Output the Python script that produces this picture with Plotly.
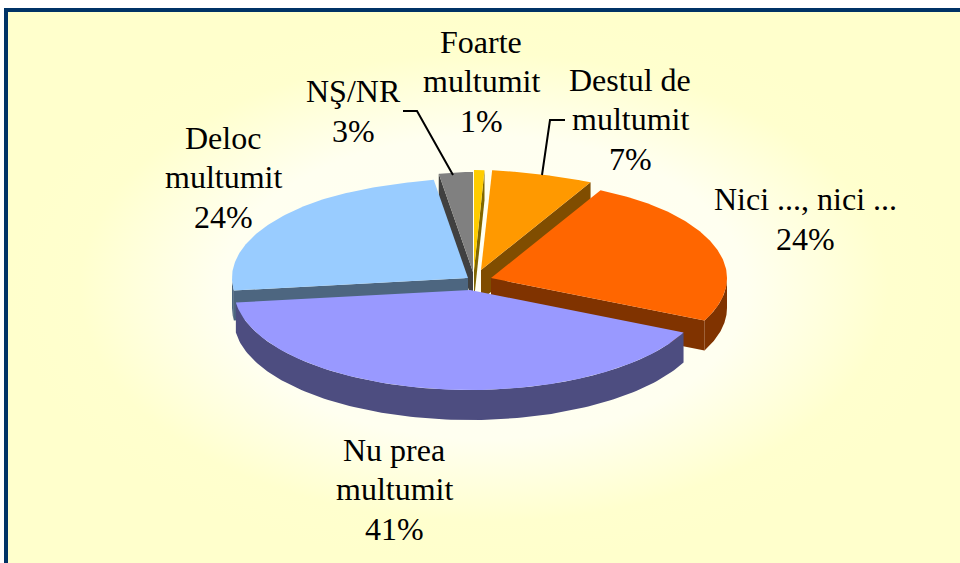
import numpy as np
import plotly.graph_objects as go

categories = ["Foarte multumit", "Destul de multumit", "Nici ..., nici ...",
              "Nu prea multumit", "Deloc multumit", "NŞ/NR"]
values = [1, 7, 24, 41, 24, 3]
label_lines = [["Foarte", "multumit", "1%"], ["Destul de", "multumit", "7%"], ["Nici ..., nici ...", "24%"],
               ["Nu prea", "multumit", "41%"], ["Deloc", "multumit", "24%"], ["NŞ/NR", "3%"]]

# styling and layout of the drawing
top_colors = ["#FFCC00", "#FF9900", "#FF6600", "#9999FF", "#99CCFF", "#808080"]
side_colors = ["#806600", "#804D00", "#803300", "#4D4D80", "#4D6680", "#404040"]
centers = [(474, 270), (481, 270), (491, 278), (470, 290), (468, 278), (473, 272)]
RX, RY, DEPTH = 236, 100, 30
PERSP = 0.3
LINE_GAP = 39.5
label_pos = [(481, 81), (630, 119), (805, 219), (394, 489), (223, 177), (353, 111)]
leaders = [([403, 417, 453], [111, 111, 175]), ([565, 550, 542], [120, 120, 175])]

W, H = 960, 563
fracs = np.array(values) / sum(values) * 360
ends = np.cumsum(fracs)
starts = ends - fracs


def rim(c, t):
    t = np.radians(t)
    squeeze = 1 - PERSP * np.maximum(np.cos(t), 0) ** 16
    return c[0] + RX * np.sin(t) * squeeze, c[1] - RY * np.cos(t)


def poly(fig, xs, ys, color):
    fig.add_trace(go.Scatter(x=list(xs), y=list(ys), mode="lines", fill="toself", fillcolor=color,
                             line=dict(width=0), hoverinfo="skip", showlegend=False))


def top(fig, i):
    c = centers[i]
    x, y = rim(c, np.linspace(starts[i], ends[i], 120))
    poly(fig, [c[0], *x, c[0]], [c[1], *y, c[1]], top_colors[i])


def cut(fig, i, t):
    c = centers[i]
    x, y = rim(c, t)
    poly(fig, [c[0], x, x, c[0], c[0]], [c[1], y, y + DEPTH, c[1] + DEPTH, c[1]], side_colors[i])


def front(fig, i):
    c = centers[i]
    a, b = max(starts[i], 90), min(ends[i], 270)
    if a >= b:
        return
    x, y = rim(c, np.linspace(a, b, 120))
    poly(fig, [*x, *x[::-1], x[0]], [*y, *(y[::-1] + DEPTH), y[0]], side_colors[i])


fig = go.Figure()

# panel background with soft gradient
fig.add_trace(go.Scatter(
    x=[8, 960, 960, 8, 8], y=[12, 12, 563, 563, 12], mode="lines", fill="toself",
    line=dict(width=0), hoverinfo="skip", showlegend=False,
    fillgradient=dict(type="radial", colorscale=[[0, "#FFFFF2"], [0.55, "#FFFFF0"], [0.85, "#FFFFCE"], [1, "#FFFFCC"]]),
))

# painter's order: back to front
cut(fig, 5, starts[5]); top(fig, 5)
cut(fig, 0, ends[0]); top(fig, 0)
cut(fig, 1, ends[1]); top(fig, 1)
cut(fig, 2, ends[2]); front(fig, 2); top(fig, 2)
cut(fig, 4, starts[4]); front(fig, 4); top(fig, 4)
front(fig, 3); top(fig, 3)

for lx, ly in leaders:
    fig.add_trace(go.Scatter(x=lx, y=ly, mode="lines", line=dict(color="black", width=2),
                             hoverinfo="skip", showlegend=False))

for lines, (x, y) in zip(label_lines, label_pos):
    for k, txt in enumerate(lines):
        fig.add_annotation(x=x, y=y + (k - (len(lines) - 1) / 2) * LINE_GAP, text=txt, showarrow=False,
                           xanchor="center", yanchor="middle",
                           font=dict(family="Liberation Serif", size=32, color="black"), align="center")

fig.add_shape(type="rect", x0=6, y0=10, x1=W + 20, y1=H + 20, line=dict(color="#003366", width=4),
              fillcolor="rgba(0,0,0,0)")

fig.update_xaxes(range=[0, W], visible=False, fixedrange=True)
fig.update_yaxes(range=[H, 0], visible=False, fixedrange=True)
fig.update_layout(width=W, height=H, margin=dict(l=0, r=0, t=0, b=0), paper_bgcolor="white",
                  plot_bgcolor="white", showlegend=False)
fig.write_html("out.html", config={"displayModeBar": False},
               post_script="document.body.style.margin='0';document.body.style.overflow='hidden';")
